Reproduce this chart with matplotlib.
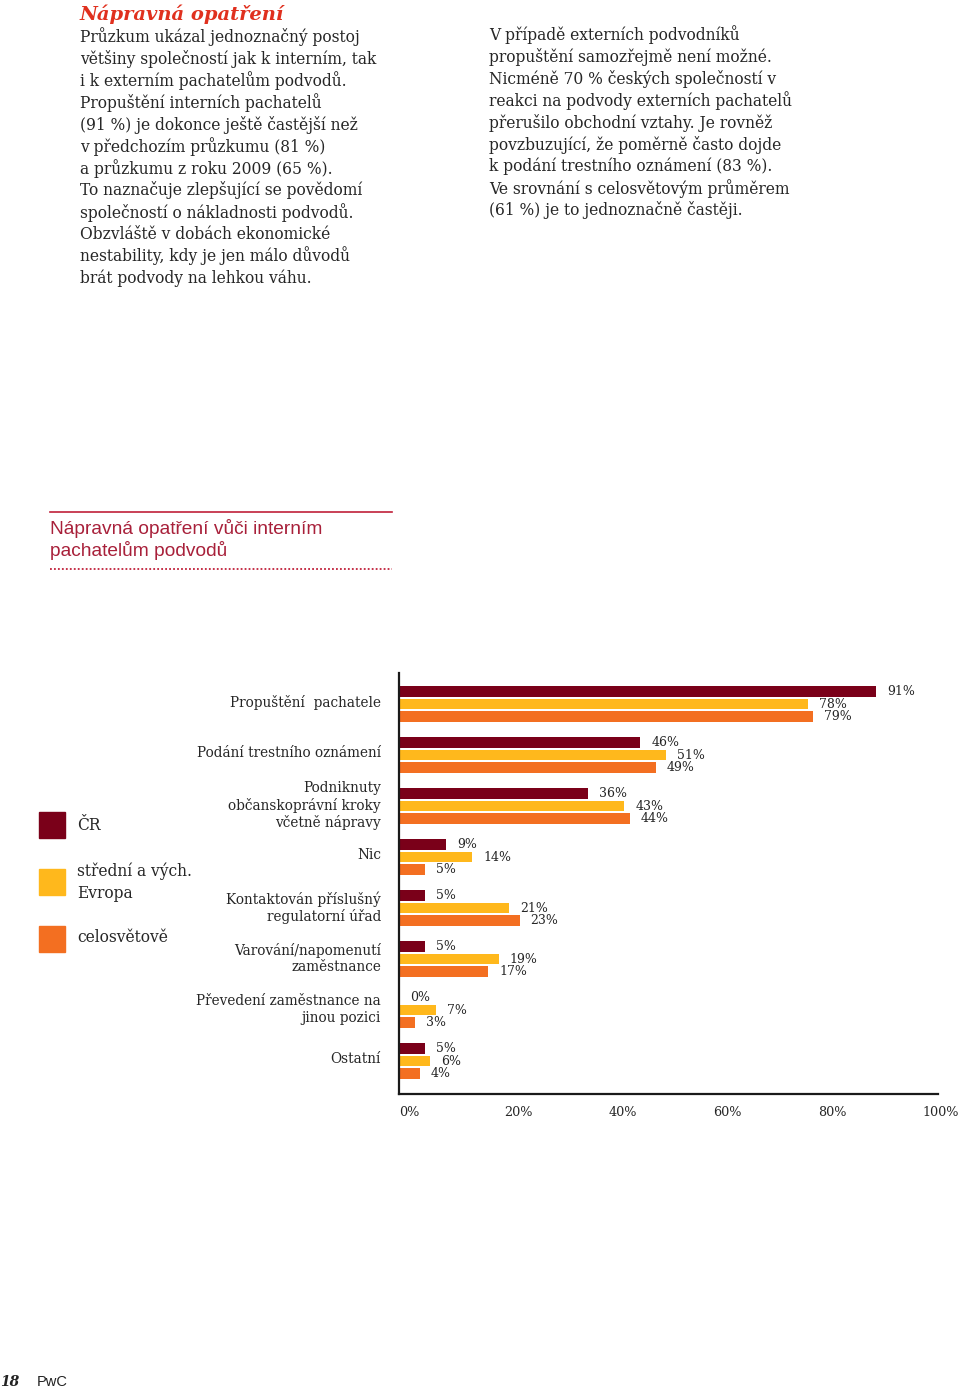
import matplotlib.pyplot as plt
import numpy as np

W, H = 960, 1389

categories = ['Propuštění  pachatele',
              'Podání trestního oznámení',
              'Podniknuty\nobčanskoprávní kroky\nvčetně nápravy',
              'Nic',
              'Kontaktován příslušný\nregulatorní úřad',
              'Varování/napomenutí\nzaměstnance',
              'Převedení zaměstnance na\njinou pozici',
              'Ostatní']
cr = [91, 46, 36, 9, 5, 5, 0, 5]
cee = [78, 51, 43, 14, 21, 19, 7, 6]
world = [79, 49, 44, 5, 23, 17, 3, 4]
series_names = ['ČR', 'střední a vých.\nEvropa', 'celosvětově']
colors = ['#7a0019', '#ffb81c', '#f36f21']
xticks = [0, 20, 40, 60, 80, 100]

left_text = ["Průzkum ukázal jednoznačný postoj",
             "většiny společností jak k interním, tak",
             "i k externím pachatelům podvodů.",
             "Propuštění interních pachatelů",
             "(91 %) je dokonce ještě častější než",
             "v předchozím průzkumu (81 %)",
             "a průzkumu z roku 2009 (65 %).",
             "To naznačuje zlepšující se povědomí",
             "společností o nákladnosti podvodů.",
             "Obzvláště v dobách ekonomické",
             "nestability, kdy je jen málo důvodů",
             "brát podvody na lehkou váhu."]
right_text = ["V případě externích podvodníků",
              "propuštění samozřejmě není možné.",
              "Nicméně 70 % českých společností v",
              "reakci na podvody externích pachatelů",
              "přerušilo obchodní vztahy. Je rovněž",
              "povzbuzující, že poměrně často dojde",
              "k podání trestního oznámení (83 %).",
              "Ve srovnání s celosvětovým průměrem",
              "(61 %) je to jednoznačně častěji."]

serif = 'DejaVu Serif'
txtcol = '#262626'

fig = plt.figure(figsize=(W / 100, H / 100), dpi=100)


def fx(x):
    return x / W


def fy(y):
    return 1 - y / H


# text columns
fig.text(fx(80), fy(14), "Nápravná opatření", color='#e0301e', fontsize=14,
         family=serif, weight='bold', style='italic', va='center')
for i, line in enumerate(left_text):
    fig.text(fx(80), fy(37 + i * 21.9), line, fontsize=11.2, family=serif,
             color=txtcol, va='center')
for i, line in enumerate(right_text):
    fig.text(fx(489), fy(35 + i * 21.9), line, fontsize=11.2, family=serif,
             color=txtcol, va='center')

# chart heading
fig.add_artist(plt.Line2D([fx(50), fx(392)], [fy(512), fy(512)], color='#c0203a', lw=1.2))
fig.add_artist(plt.Line2D([fx(50), fx(392)], [fy(569), fy(569)], color='#c0203a', lw=1.3,
                          linestyle=(0, (1, 1.2))))
fig.text(fx(50), fy(528), "Nápravná opatření vůči interním", family='Liberation Sans',
         fontsize=13.8, color='#a8203a', va='center')
fig.text(fx(50), fy(551), "pachatelům podvodů", family='Liberation Sans',
         fontsize=13.8, color='#a8203a', va='center')

# bar chart
ax_l, ax_r, ax_t, ax_b = 399, 938, 673, 1094
ax = fig.add_axes([fx(ax_l), fy(ax_b), (ax_r - ax_l) / W, (ax_b - ax_t) / H])
y = np.arange(len(categories))
step = 0.253
bh = 0.215
for k, (vals, c) in enumerate(zip([cr, cee, world], colors)):
    pos = y + (k - 1) * step
    ax.barh(pos, vals, height=bh, color=c)
    for p, v in zip(pos, vals):
        ax.annotate(f"{v}%", (v, p), xytext=(8, 0), textcoords='offset points',
                    va='center', ha='left', fontsize=9, family=serif, color=txtcol)

ax.set_xlim(0, (ax_r - ax_l) / 5.24)
ax.set_ylim(len(categories) - 1 + 0.647, -0.608)
# category labels sit a little above the middle bar
ax.set_yticks(y - 0.06)
ax.set_yticklabels(categories, family=serif, fontsize=9.8, color=txtcol, linespacing=1.2)
ax.tick_params(axis='y', length=0, pad=13)
ax.set_xticks(xticks)
ax.set_xticklabels([f"{t}%" for t in xticks], family=serif, fontsize=9.2, color=txtcol,
                   ha='left')
ax.tick_params(axis='x', length=0, pad=9)
for s in ['top', 'right']:
    ax.spines[s].set_visible(False)
for s in ['left', 'bottom']:
    ax.spines[s].set_linewidth(1.6)
    ax.spines[s].set_color('#1a1a1a')

# legend
for name, c, yy in zip(series_names, colors, [825, 882, 939]):
    fig.patches.append(plt.Rectangle((fx(39), fy(yy + 13)), 26 / W, 26 / H,
                                     color=c, transform=fig.transFigure))
fig.text(fx(77), fy(825), series_names[0], family=serif, fontsize=11.2, color=txtcol, va='center')
fig.text(fx(77), fy(882), series_names[1], family=serif, fontsize=11.2,
         color=txtcol, va='center', linespacing=1.35)
fig.text(fx(77), fy(938), series_names[2], family=serif, fontsize=11.2, color=txtcol, va='center')

# footer
fig.text(fx(0), fy(1382), "18", family=serif, weight='bold', style='italic', fontsize=10,
         color='#222222', va='center')
fig.text(fx(37), fy(1382), "PwC", family='Liberation Sans', fontsize=10.5,
         color='#222222', va='center')

fig.savefig('out.png', dpi=100)
